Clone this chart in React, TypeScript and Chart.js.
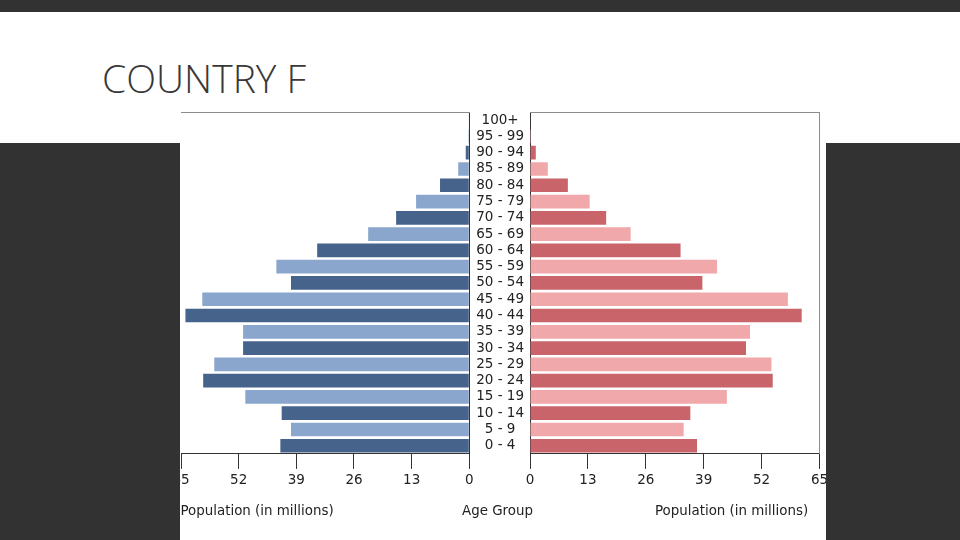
import { useEffect, useRef } from "react";
import { Chart, ChartConfiguration, registerables } from "chart.js";

Chart.register(...registerables);

// age bands, top of the pyramid first
const ageGroups = [
    "100+", "95 - 99", "90 - 94", "85 - 89", "80 - 84", "75 - 79", "70 - 74",
    "65 - 69", "60 - 64", "55 - 59", "50 - 54", "45 - 49", "40 - 44", "35 - 39",
    "30 - 34", "25 - 29", "20 - 24", "15 - 19", "10 - 14", "5 - 9", "0 - 4",
];
// population in millions
const malePopulation = [
    0.1, 0.2, 0.8, 2.5, 6.6, 12.0, 16.5, 22.8, 34.3, 43.5, 40.2,
    60.2, 64.0, 51.0, 51.0, 57.5, 60.0, 50.5, 42.3, 40.2, 42.6,
];
const femalePopulation = [
    0.1, 0.2, 1.3, 4.0, 8.5, 13.4, 17.1, 22.6, 33.8, 42.0, 38.7,
    57.9, 61.0, 49.4, 48.5, 54.2, 54.5, 44.2, 36.0, 34.5, 37.5,
];
const populationTicks = [0, 13, 26, 39, 52, 65];

const FONT = { family: "'DejaVu Sans', sans-serif", size: 13.5 };
const INK = "#222";
const AXIS = "#333";
const FRAME = "#8c8c8c";

const stripes = (dark: string, light: string) =>
    ageGroups.map((_, i) => (i % 2 === 0 ? dark : light));

const hiddenAxis = (axis: "x" | "y", position: string) => ({
    type: "linear",
    axis,
    position,
    grid: { drawOnChartArea: false, drawTicks: false },
    border: { color: FRAME, width: 1 },
    ticks: { display: false },
});

function buildConfig(side: "left" | "right"): ChartConfiguration {
    const left = side === "left";
    return {
        type: "bar",
        data: {
            labels: ageGroups,
            datasets: [
                {
                    label: left ? "Male" : "Female",
                    data: left ? malePopulation : femalePopulation,
                    backgroundColor: left
                        ? stripes("#46638c", "#8aa6cc")
                        : stripes("#c8646a", "#f0a8aa"),
                    barPercentage: 0.84,
                    categoryPercentage: 1,
                },
            ],
        },
        options: {
            indexAxis: "y",
            animation: false,
            responsive: true,
            maintainAspectRatio: false,
            events: [],
            layout: {
                padding: left
                    ? { left: 31, right: 5.7, top: 4, bottom: 47.9 }
                    : { left: 0, right: 8.5, top: 4, bottom: 47.9 },
            },
            plugins: {
                legend: { display: false },
                tooltip: { enabled: false },
            },
            scales: {
                x: {
                    type: "linear",
                    reverse: left,
                    min: 0,
                    max: 65,
                    afterBuildTicks: (scale: any) => {
                        scale.ticks = populationTicks.map((value) => ({ value }));
                    },
                    afterFit: (scale: any) => {
                        // edge labels may hang over; the layout padding decides the plot edges
                        scale.paddingLeft = 0;
                        scale.paddingRight = 0;
                    },
                    grid: { drawOnChartArea: false, drawTicks: true, tickLength: 15, color: AXIS },
                    border: { color: AXIS, width: 1 },
                    ticks: { font: FONT, color: INK, padding: 3.5, maxRotation: 0 },
                },
                y: left
                    ? {
                        position: "right",
                        grid: { drawOnChartArea: false, drawTicks: false },
                        border: { color: AXIS, width: 1 },
                        ticks: { display: false },
                    }
                    : {
                        position: "left",
                        afterFit: (scale: any) => {
                            // fixed label column, no extra room above/below
                            scale.width = 60;
                            scale.paddingTop = 0;
                            scale.paddingBottom = 0;
                        },
                        grid: { drawOnChartArea: false, drawTicks: false },
                        border: { color: AXIS, width: 1 },
                        ticks: {
                            font: FONT,
                            color: INK,
                            crossAlign: "center",
                            padding: 6,
                            autoSkip: false,
                        },
                    },
                xTop: hiddenAxis("x", "top"),
                ...(left ? {} : { yRight: hiddenAxis("y", "right") }),
            },
        },
    } as ChartConfiguration;
}

function PyramidHalf({ side, style }: { side: "left" | "right"; style: React.CSSProperties }) {
    const canvasRef = useRef<HTMLCanvasElement | null>(null);
    useEffect(() => {
        if (!canvasRef.current) return;
        const chart = new Chart(canvasRef.current, buildConfig(side));
        return () => {
            chart.destroy();
        };
    }, [side]);
    return (
        <div style={{ position: "absolute", top: 0, height: 432, ...style }}>
            <canvas ref={canvasRef} />
        </div>
    );
}

const axisTitle: React.CSSProperties = {
    position: "absolute",
    top: 395,
    fontFamily: "'DejaVu Sans', sans-serif",
    fontSize: 13.4,
    lineHeight: "16px",
    color: INK,
    whiteSpace: "nowrap",
};

export default function App() {
    return (
        <div
            style={{
                position: "absolute",
                left: 0,
                top: 0,
                width: 960,
                height: 540,
                background: "#323232",
                overflow: "hidden",
            }}
        >
            {/* white title band */}
            <div style={{ position: "absolute", left: 0, top: 12, width: 960, height: 131, background: "#fff" }} />
            <div
                style={{
                    position: "absolute",
                    left: 102,
                    top: 58,
                    fontFamily: "'Open Sans', sans-serif",
                    fontWeight: 300,
                    fontSize: 39,
                    lineHeight: "39px",
                    color: "#383838",
                    whiteSpace: "nowrap",
                }}
            >
                COUNTRY F
            </div>
            {/* chart picture */}
            <div
                style={{
                    position: "absolute",
                    left: 180,
                    top: 108,
                    width: 646,
                    height: 432,
                    background: "#fff",
                    overflow: "hidden",
                }}
            >
                <PyramidHalf side="left" style={{ left: -30, width: 325 }} />
                <PyramidHalf side="right" style={{ left: 290, width: 358 }} />
                <div style={{ ...axisTitle, left: 0.5 }}>Population (in millions)</div>
                <div style={{ ...axisTitle, left: 257.5, width: 120, textAlign: "center" }}>Age Group</div>
                <div style={{ ...axisTitle, left: 475 }}>Population (in millions)</div>
            </div>
        </div>
    );
}
